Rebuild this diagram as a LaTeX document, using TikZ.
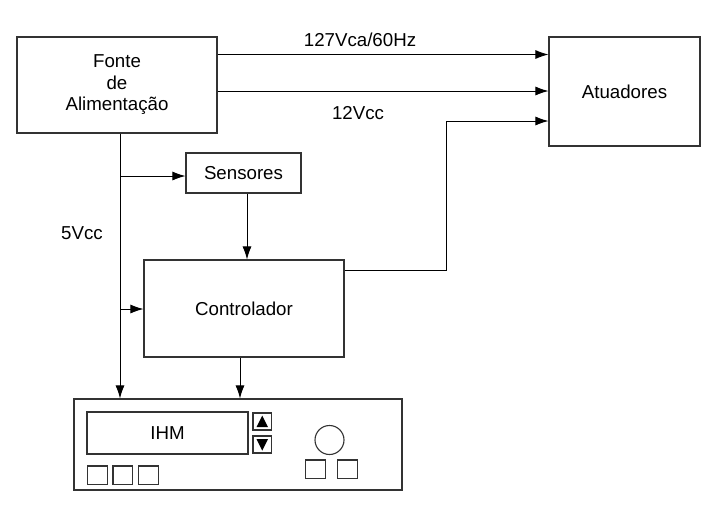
\documentclass[tikz,border=0pt]{standalone}
\usepackage{fontspec}
\setmainfont{Liberation Sans}
\usetikzlibrary{arrows.meta}
\begin{document}
\begin{tikzpicture}[x=1pt,y=-1pt,
  box/.style={draw=black!80, line width=1.1pt, inner sep=0pt, align=center,
    font=\fontsize{18.7}{21.5}\selectfont},
  conn/.style={line width=0.9pt, -{Latex[length=13pt,width=9pt]}},
  lbl/.style={font=\fontsize{18.7}{21.5}\selectfont, inner sep=0pt},
  part/.style={draw=black!80, line width=1.1pt}]
\useasboundingbox (0,0) rectangle (710,507);
\node[box, minimum width=200pt, minimum height=96pt] (fonte) at (117,85) {Fonte\\de\\Alimentação};
\node[box, minimum width=151pt, minimum height=109pt] (atu) at (624.5,91.5) {Atuadores};
\node[box, minimum width=115pt, minimum height=40pt] (sens) at (243.5,173) {Sensores};
\node[box, minimum width=200pt, minimum height=97pt] (ctrl) at (244,308.5) {Controlador};
\node[box, minimum width=328pt, minimum height=91pt] (ihm) at (238,444.5) {};
\node[box, minimum width=161pt, minimum height=42pt] (disp) at (167.5,433) {IHM};
% connectors
\draw[conn] (fonte.east |- 0,54.5) -- (atu.west |- 0,54.5);
\draw[conn] (fonte.east |- 0,91) -- (atu.west |- 0,91);
\coordinate (c1) at (446,270);
\coordinate (c2) at (446,121);
\draw[conn] (ctrl.east |- c1) -- (c1) -- (c2) -- (atu.west |- c2);
\coordinate (f0) at (120,133);
\draw[conn] (fonte.south -| f0) -- (ihm.north -| f0);
\coordinate (b1) at (120,176);
\coordinate (b2) at (120,309);
\draw[conn] (b1) -- (sens.west |- b1);
\draw[conn] (b2) -- (ctrl.west |- b2);
\coordinate (s0) at (247,193);
\draw[conn] (sens.south -| s0) -- (ctrl.north -| s0);
\coordinate (k0) at (240,357);
\draw[conn] (ctrl.south -| k0) -- (ihm.north -| k0);
% labels
\node[lbl] (l1) at (360,40) {127Vca/60Hz};
\node[lbl] (l2) at (358,113) {12Vcc};
\node[lbl] (l3) at (82,233) {5Vcc};
% panel parts
\draw[part] (253,413) rectangle (271.5,430);
\fill (256.5,427) -- (268,427) -- (262.25,415.5) -- cycle;
\draw[part] (253,436) rectangle (271.5,453);
\fill (256.5,439) -- (268,439) -- (262.25,450.5) -- cycle;
\draw[part] (87.5,466) rectangle (107.5,484.5);
\draw[part] (113,466) rectangle (132.5,484.5);
\draw[part] (138.5,466) rectangle (158.5,484.5);
\draw[part] (329.5,440) circle (14.5);
\draw[part] (305.5,460) rectangle (325.5,478.5);
\draw[part] (337.5,460) rectangle (357.5,478.5);
\end{tikzpicture}
\end{document}
